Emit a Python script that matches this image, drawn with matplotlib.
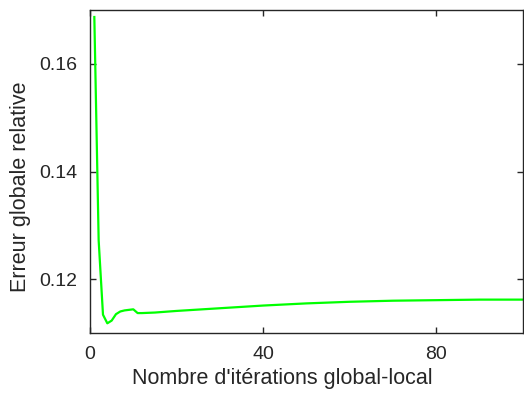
import matplotlib
matplotlib.use("Agg")
import matplotlib.pyplot as plt

# iterations and relative global error
iterations = [1, 2, 3, 4, 5, 6, 7, 8, 9, 10, 11, 12, 15, 20, 30, 40, 50, 60, 70, 80, 90, 100]
rel_error = [0.1687, 0.1272, 0.1134, 0.1118, 0.1123, 0.1135, 0.1140, 0.1142, 0.1143, 0.1144,
             0.1137, 0.1137, 0.1138, 0.1141, 0.1146, 0.1151, 0.1155, 0.1158, 0.1160, 0.1161,
             0.1162, 0.1162]

x_ticks = [0, 40, 80]
y_ticks = [0.12, 0.14, 0.16]

plt.rcParams['font.family'] = ['Liberation Sans', 'DejaVu Sans']

fig = plt.figure(figsize=(5.24, 3.96), dpi=100)
ax = fig.add_axes([90 / 524, 63 / 396, 433 / 524, 323 / 396])

ax.plot(iterations, rel_error, color='#00ff00', linewidth=1.6)

ax.set_xlim(0, 100)
ax.set_ylim(0.11, 0.17)
ax.set_xticks(x_ticks)
ax.set_xticklabels([str(t) for t in x_ticks])
ax.set_yticks(y_ticks)
ax.set_yticklabels(['%.2f' % t for t in y_ticks])

for s in ax.spines.values():
    s.set_color('#262626')
    s.set_linewidth(1.0)
ax.tick_params(direction='in', top=True, right=True, length=4.2, width=1.0,
               colors='#262626', labelsize=14)
ax.tick_params(axis='x', pad=9.5)
ax.tick_params(axis='y', pad=9)

ax.set_xlabel("Nombre d'itérations global-local", fontsize=15.5, color='#262626')
ax.set_ylabel("Erreur globale relative", fontsize=15.5, color='#262626')
# labels sit a bit off-centre in the original
ax.xaxis.set_label_coords(0.4434, -0.107)
ax.yaxis.set_label_coords(-0.1358, 0.4536)

fig.savefig('out.png', dpi=100)
